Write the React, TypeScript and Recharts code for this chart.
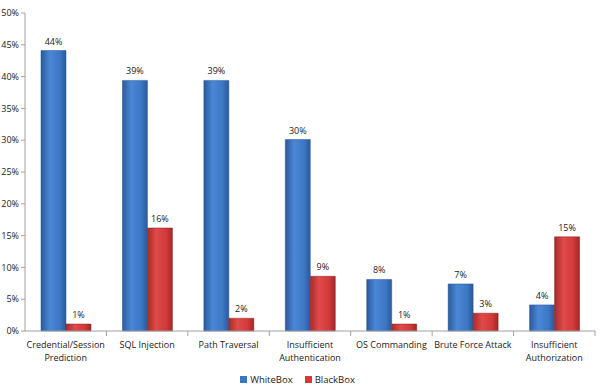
import { BarChart, Bar, XAxis, YAxis, Legend, LabelList } from "recharts";

const categories = [
  "Credential/Session Prediction",
  "SQL Injection",
  "Path Traversal",
  "Insufficient Authentication",
  "OS Commanding",
  "Brute Force Attack",
  "Insufficient Authorization",
];
const whiteBox = [44.1, 39.4, 39.4, 30.1, 8.1, 7.4, 4.1];
const blackBox = [1.1, 16.2, 2.0, 8.6, 1.1, 2.8, 14.8];
const yTicks = [0, 5, 10, 15, 20, 25, 30, 35, 40, 45, 50];

const FONT = "'Open Sans', 'DejaVu Sans', sans-serif";

const data = categories.map((name, i) => ({
  name,
  WhiteBox: whiteBox[i],
  BlackBox: blackBox[i],
}));

const seriesLegend = [
  { name: "WhiteBox", color: "#3d77c4" },
  { name: "BlackBox", color: "#d33a3a" },
];

// two-line wrap like the original Excel labels
function splitLabel(s: string): string[] {
  if (s === "Credential/Session Prediction") return ["Credential/Session", "Prediction"];
  if (s.startsWith("Insufficient ")) return ["Insufficient", s.slice(13)];
  return [s];
}

function CatTick(props: any) {
  const { x, y, payload, width, visibleTicksCount } = props;
  const band = width / visibleTicksCount;
  const lines = splitLabel(payload.value);
  return (
    <g>
      <line x1={x + band / 2} x2={x + band / 2} y1={y - 8} y2={y - 3} stroke="#a0a0a0" />
      {lines.map((l, i) => (
        <text key={i} x={x} y={y + 9 + i * 12.5} textAnchor="middle" fontSize={9} fill="#222" fontFamily={FONT}>
          {l}
        </text>
      ))}
    </g>
  );
}

function LegendBox() {
  return (
    <div style={{ display: "flex", justifyContent: "center", gap: 12, fontSize: 9.5, fontFamily: FONT, color: "#222", paddingTop: 6 }}>
      {seriesLegend.map((s) => (
        <span key={s.name} style={{ display: "inline-flex", alignItems: "center", gap: 3 }}>
          <span style={{ width: 7, height: 7, background: s.color, display: "inline-block" }} />
          {s.name}
        </span>
      ))}
    </div>
  );
}

export default function App() {
  return (
    <div style={{ position: "fixed", left: 0, top: 0, background: "#fff" }}>
      <BarChart
        width={600}
        height={391}
        data={data}
        margin={{ top: 13, right: 5, left: 0, bottom: 0 }}
        barCategoryGap={16}
        barGap={0}
      >
        <defs>
          <linearGradient id="gBlue" x1="0" y1="0" x2="1" y2="0">
            <stop offset="0%" stopColor="#2a5a9c" />
            <stop offset="35%" stopColor="#4a87d5" />
            <stop offset="75%" stopColor="#3d77c4" />
            <stop offset="100%" stopColor="#2a5a9c" />
          </linearGradient>
          <linearGradient id="gRed" x1="0" y1="0" x2="1" y2="0">
            <stop offset="0%" stopColor="#a82b2b" />
            <stop offset="35%" stopColor="#e04a4a" />
            <stop offset="75%" stopColor="#d33a3a" />
            <stop offset="100%" stopColor="#a02828" />
          </linearGradient>
        </defs>
        <XAxis
          dataKey="name"
          interval={0}
          tickLine={false}
          axisLine={{ stroke: "#a0a0a0" }}
          tick={<CatTick />}
          height={36}
        />
        <YAxis
          width={25}
          domain={[0, 50]}
          ticks={yTicks}
          tickFormatter={(v) => `${v}%`}
          tick={{ fontSize: 9, fill: "#222", fontFamily: FONT }}
          tickLine={{ stroke: "#a0a0a0" }}
          tickSize={4}
          axisLine={{ stroke: "#a0a0a0" }}
        />
        <Legend verticalAlign="bottom" height={24} content={<LegendBox />} />
        <Bar dataKey="WhiteBox" fill="url(#gBlue)" stroke="#2a5590" strokeWidth={0.5} isAnimationActive={false}>
          <LabelList
            dataKey="WhiteBox"
            position="top"
            offset={6}
            formatter={(v: any) => `${Math.round(v)}%`}
            style={{ fontSize: 9, fill: "#222", fontFamily: FONT }}
          />
        </Bar>
        <Bar dataKey="BlackBox" fill="url(#gRed)" stroke="#8e2323" strokeWidth={0.5} isAnimationActive={false}>
          <LabelList
            dataKey="BlackBox"
            position="top"
            offset={6}
            formatter={(v: any) => `${Math.round(v)}%`}
            style={{ fontSize: 9, fill: "#222", fontFamily: FONT }}
          />
        </Bar>
      </BarChart>
    </div>
  );
}
